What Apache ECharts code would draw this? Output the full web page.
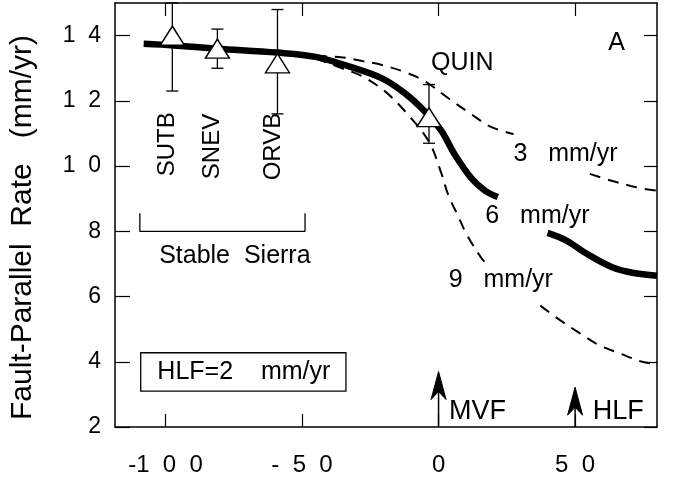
<!DOCTYPE html>
<html><head><meta charset="utf-8">
<script src="https://cdn.jsdelivr.net/npm/echarts@6/dist/echarts.min.js"></script>
<style>html,body{margin:0;padding:0;background:#fff}#c{width:674px;height:491px}</style>
</head><body><div id="c"></div>
<script>
// ---- axes ----
const xTicks = [-100, -50, 0, 50];
const xTickLabels = ['-1  0  0', '-  5  0', '0', '5  0'];
const yTicks = [2, 4, 6, 8, 10, 12, 14];
const yTickLabels = ['2', '4', '6', '8', '1  0', '1  2', '1  4'];
const yTitle = 'Fault-Parallel  Rate   (mm/yr)\u00a0\u00a0\u00a0';

// ---- model curves (x = distance, y = rate) ----
const model6West = [[-108,13.75],[-97,13.7],[-81,13.6],[-59,13.48],[-45,13.35],[-32.6,13.05],[-20.7,12.69],[-12.3,12.23],[-5.1,11.68],[1.1,11.07],[5.8,10.37],[12,9.63],[17,9.25],[21.7,9.05]];
const model6East = [[39.9,7.95],[47,7.71],[54.3,7.31],[63.8,6.89],[71,6.73],[80,6.64]];
const model3West = [[-45,13.38],[-35.9,13.34],[-27.9,13.22],[-20.7,13.1],[-12.3,12.88],[-5,12.6],[3.6,12.08],[12,11.59],[19.2,11.2],[27.5,10.98]];
const model3East = [[55.4,9.76],[63.8,9.54],[73.5,9.33],[80,9.25]];
const model9West = [[-45,13.3],[-35.1,12.99],[-27.9,12.75],[-19.6,12.29],[-12.3,11.68],[-3.6,10.76],[1.1,9.76],[3.6,9.1],[7,8.5],[10.2,7.92],[15.6,7.19],[17.4,7.02]];
const model9East = [[37.3,5.72],[44.6,5.27],[51.8,4.87],[59,4.5],[66.3,4.26],[74.6,4.0],[80,3.93]];

// ---- GPS sites ----
const siteNames = ['SUTB', 'SNEV', 'ORVB', 'QUIN'];
const siteX = [-97.5, -81, -59, -3.5];
const siteRate = [14.0, 13.6, 13.15, 11.5];
const siteLow = [12.3, 13.0, 11.6, 10.7];
const siteHigh = [15.0, 14.2, 14.8, 12.5];

// ---- fault markers ----
const faultNames = ['MVF', 'HLF'];
const faultX = [0, 50];
const faultArrowTop = [3.7, 3.22];
const faultLabelX = [14.3, 65.8];
const faultLabelY = [2.46, 2.46];

// ---- annotations ----
const siteLabelX = [-99.3, -83, -60.5];
const siteLabelY = [10.67, 10.6, 10.6];
const textLabels = ['QUIN', 'A', '3   mm/yr', '6   mm/yr', '9   mm/yr', 'Stable  Sierra'];
const textX = [8.7, 65.2, 46.5, 36.2, 22.8, -74.6];
const textY = [13.15, 13.76, 10.37, 8.47, 6.49, 7.25];
const bracket = [[-109.4,8.55],[-109.4,8.0],[-48.9,8.0],[-48.9,8.55]];
const boxText = 'HLF=2    mm/yr';
const boxPos = [-71.5, 3.69];

const FONT = '"Liberation Sans", Arial, Helvetica, sans-serif';
const chart = echarts.init(document.getElementById('c'), null, {renderer: 'canvas'});

const axisLineStyle = {color: '#000', width: 1.5};
const xMin = -118.5, xMax = 80, yMin = 2, yMax = 15;
const plainText = {color: '#000', fontFamily: FONT, textBorderWidth: 0, textBorderColor: 'transparent', textShadowBlur: 0, opacity: 1};

function lineSeries(data, dashed, width) {
  return {
    type: 'line', data: data, symbol: 'none', smooth: 0.35, silent: true,
    xAxisIndex: 0, yAxisIndex: 0, z: 3,
    lineStyle: {color: '#000', width: width, type: dashed ? [11, 8] : 'solid', cap: 'butt', opacity: 1}
  };
}

function textSeries(names, xs, ys, size, rotate) {
  return {
    type: 'scatter', z: 6, silent: true, symbolSize: 0,
    itemStyle: {opacity: 1},
    data: names.map((t, i) => ({name: t, value: [xs[i], ys[i]]})),
    label: Object.assign({show: true, position: 'inside', rotate: rotate || 0, formatter: p => p.name, fontSize: size}, plainText)
  };
}

const option = {
  animation: false,
  backgroundColor: '#fff',
  grid: {left: 111, right: 17, top: 3, bottom: 64, containLabel: false},
  xAxis: [{
    type: 'value', position: 'bottom', min: xMin, max: xMax,
    axisLine: {show: true, onZero: false, lineStyle: axisLineStyle},
    axisTick: {show: true, inside: true, length: 13, customValues: xTicks, lineStyle: {color: '#000', width: 1.2}},
    axisLabel: Object.assign({show: true, customValues: xTicks, margin: 26, fontSize: 24,
      formatter: v => xTickLabels[xTicks.indexOf(v)] ?? ''}, plainText),
    splitLine: {show: false}
  }, {
    type: 'value', position: 'top', min: xMin, max: xMax,
    axisLine: {show: true, onZero: false, lineStyle: axisLineStyle},
    axisTick: {show: true, inside: true, length: 13, customValues: xTicks, lineStyle: {color: '#000', width: 1.2}},
    axisLabel: {show: false}, splitLine: {show: false}
  }],
  yAxis: [{
    type: 'value', position: 'left', min: yMin, max: yMax, interval: 2,
    axisLine: {show: true, onZero: false, lineStyle: axisLineStyle},
    axisTick: {show: true, inside: true, length: 15, customValues: yTicks, lineStyle: {color: '#000', width: 1.2}},
    axisLabel: Object.assign({show: true, customValues: yTicks, margin: 14, fontSize: 23,
      formatter: v => yTickLabels[yTicks.indexOf(v)] ?? ''}, plainText),
    splitLine: {show: false},
    name: yTitle, nameLocation: 'middle', nameGap: 77, nameRotate: 90,
    nameTextStyle: {color: '#000', fontSize: 30, fontFamily: FONT}
  }, {
    type: 'value', position: 'right', min: yMin, max: yMax, interval: 2,
    axisLine: {show: true, onZero: false, lineStyle: axisLineStyle},
    axisTick: {show: true, inside: true, length: 13, customValues: yTicks, lineStyle: {color: '#000', width: 1.2}},
    axisLabel: {show: false}, splitLine: {show: false}
  }],
  series: [
    lineSeries(model6West, false, 6.5),
    lineSeries(model6East, false, 6.5),
    lineSeries(model3West, true, 2),
    lineSeries(model3East, true, 2),
    lineSeries(model9West, true, 2),
    lineSeries(model9East, true, 2),
    { // Stable Sierra bracket
      type: 'line', data: bracket, symbol: 'none', silent: true, z: 2,
      lineStyle: {color: '#000', width: 1.3}
    },
    { // error bars
      type: 'custom', z: 4, silent: true,
      data: siteX.map((x, i) => [x, siteLow[i], siteHigh[i]]),
      renderItem: function (params, api) {
        const x = api.value(0);
        const lo = api.coord([x, api.value(1)]);
        const hi = api.coord([x, api.value(2)]);
        const cw = 6;
        const st = {stroke: '#000', lineWidth: 1.3, fill: null};
        return {type: 'group', children: [
          {type: 'line', shape: {x1: lo[0], y1: lo[1], x2: hi[0], y2: hi[1]}, style: st},
          {type: 'line', shape: {x1: lo[0] - cw, y1: lo[1], x2: lo[0] + cw, y2: lo[1]}, style: st},
          {type: 'line', shape: {x1: hi[0] - cw, y1: hi[1], x2: hi[0] + cw, y2: hi[1]}, style: st}
        ]};
      }
    },
    { // triangles
      type: 'scatter', z: 5, silent: true,
      data: siteX.map((x, i) => [x, siteRate[i]]),
      symbol: 'triangle', symbolSize: [24, 19],
      itemStyle: {color: '#fff', borderColor: '#000', borderWidth: 1.4, opacity: 1}
    },
    { // fault arrows
      type: 'custom', z: 5, silent: true,
      data: faultX.map((x, i) => [x, faultArrowTop[i]]),
      renderItem: function (params, api) {
        const x = api.value(0);
        const base = api.coord([x, yMin]);
        const tip = api.coord([x, api.value(1)]);
        const hw = 7.5, hl = 28, notch = 20;
        return {type: 'group', children: [
          {type: 'line', shape: {x1: base[0], y1: base[1], x2: tip[0], y2: tip[1] + 8}, style: {stroke: '#000', lineWidth: 1.5}},
          {type: 'polygon', shape: {points: [[tip[0], tip[1]], [tip[0] + hw, tip[1] + hl], [tip[0], tip[1] + notch], [tip[0] - hw, tip[1] + hl]]},
            style: {fill: '#000', stroke: '#000', lineWidth: 1}}
        ]};
      }
    },
    textSeries(siteNames.slice(0, 3), siteLabelX, siteLabelY, 24, 90),
    textSeries(textLabels, textX, textY, 25, 0),
    textSeries(faultNames, faultLabelX, faultLabelY, 27, 0),
    { // boxed legend text
      type: 'scatter', z: 6, silent: true, symbolSize: 0,
      itemStyle: {opacity: 1},
      data: [{name: boxText, value: boxPos}],
      label: Object.assign({show: true, position: 'inside', formatter: p => p.name, fontSize: 25,
        borderColor: '#000', borderWidth: 1.3, padding: [7, 15, 5, 16], backgroundColor: '#fff'}, plainText)
    }
  ]
};
chart.setOption(option);
</script>
</body></html>
